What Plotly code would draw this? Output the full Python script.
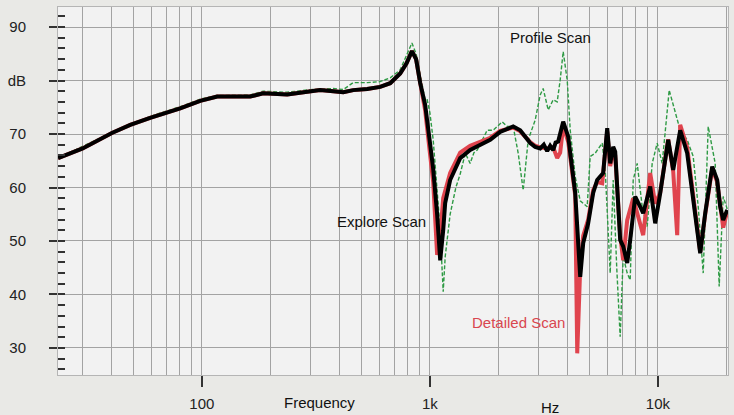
import plotly.graph_objects as go

# frequency response readings (Hz, dB)
explore_hz = [23.4, 30, 40.3, 48.5, 59.3, 80.3, 98.3, 116.7, 162.9, 185.7, 236.7,
              298.5, 330, 377, 417, 461, 531, 605, 670, 741, 790, 834, 870, 907,
              953, 1000, 1034, 1076, 1110, 1144, 1167, 1227, 1358, 1502, 1839, 2034,
              2320, 2490, 2754, 2896, 3047, 3160, 3269, 3370, 3474, 3560, 3653, 3843,
              4043, 4339, 4564, 4704, 4946, 5202, 5417, 5756, 5994, 6178, 6368, 6498,
              6833, 7044, 7335, 7560, 7952, 8365, 8621, 9252, 9731, 10233, 11098,
              11673, 12527, 13445, 14286, 14876, 15332, 16127, 17308, 18201, 18760,
              19337, 20133]
explore_db = [65.5, 67.3, 70.2, 71.7, 73.0, 74.8, 76.2, 77.0, 77.0, 77.6, 77.4,
              77.9, 78.2, 78.0, 77.8, 78.2, 78.4, 78.8, 79.5, 81.3, 83.2, 85.5, 84.0, 79.5,
              75.5, 68.5, 63.5, 55.0, 46.4, 52.0, 57.1, 61.4, 65.5, 67.0, 68.9, 70.4,
              71.4, 70.7, 68.3, 67.6, 67.3, 68.0, 66.8, 67.8, 67.0, 68.4, 68.6, 72.3,
              69.5, 59.0, 43.3, 49.6, 53.3, 59.0, 61.4, 62.7, 71.1, 64.5, 67.6, 66.7,
              50.2, 49.0, 45.9, 50.2, 58.3, 56.4, 55.2, 60.2, 53.3, 58.9, 68.9,
              63.3, 70.7, 66.4, 58.3, 52.7, 47.7, 55.2, 63.9, 61.4, 56.4,
              53.9, 55.8]

detailed_hz = [23.4, 30, 40.3, 48.5, 59.3, 80.3, 98.3, 116.7, 162.9, 185.7, 236.7,
               298.5, 330, 377, 417, 461, 531, 605, 670, 741, 790, 834, 870, 907,
               953, 1000, 1034, 1076, 1110, 1144, 1227, 1358, 1502, 1839, 2034,
               2320, 2490, 2754, 2896, 3047, 3269, 3474, 3617, 3728, 3843,
               4043, 4339, 4428, 4564, 4704, 4946, 5202, 5417, 5698, 5994, 6178, 6368,
               6498, 6833, 7044, 7335, 7793, 8365, 8621, 9252, 9731, 10233, 11098,
               11673, 12154, 12527, 13445, 14286, 14876, 15332, 16127, 17308, 18201,
               18760, 19337, 20133]
detailed_db = [65.5, 67.3, 70.2, 71.7, 73.0, 74.8, 76.2, 77.0, 77.0, 77.6, 77.4,
               77.9, 78.2, 78.0, 77.8, 78.2, 78.4, 78.8, 79.5, 81.3, 83.2, 85.5, 84.0, 79.5,
               74.5, 66.5, 61.0, 47.4, 51.0, 58.0, 62.7, 66.5, 67.8, 69.3, 70.6,
               71.2, 70.5, 68.5, 67.8, 67.5, 67.3, 67.5, 65.5, 66.5, 71.5,
               68.5, 58.5, 29.0, 45.0, 51.0, 54.0, 59.5, 61.0, 60.8, 70.5, 64.0, 67.0,
               66.0, 51.0, 46.4, 53.9, 58.0, 53.3, 51.1, 62.7, 57.0, 59.0, 69.0,
               63.0, 51.1, 71.7, 67.5, 58.5, 53.0, 48.0, 55.0, 63.5, 61.0,
               57.0, 52.5, 55.5]

profile_hz = [23.4, 40.3, 59.3, 80.3, 98.3, 116.7, 162.9, 185.7, 236.7, 298.5, 377,
              417, 461, 531, 605, 670, 741, 834, 870, 907, 953, 973, 1000, 1034, 1076,
              1110, 1144, 1167, 1227, 1300, 1358, 1430, 1502, 1560, 1613, 1700, 1784,
              1895, 2076, 2183, 2320, 2440, 2566, 2699, 2896, 3047, 3140, 3303, 3474,
              3617, 3728, 3843, 4002, 4126, 4339, 4564, 4897, 5047, 5309, 5698, 5874,
              6178, 6368, 6600, 6833, 7044, 7335, 7560, 7793, 8115, 8535, 8977, 9441,
              9929, 10445, 11210, 11912, 12527, 13445, 14286, 15027, 15803, 16622,
              17308, 17838, 18573, 19337, 20133]
profile_db = [65.5, 70.3, 73.3, 75.1, 76.5, 77.2, 77.3, 78.0, 77.8, 78.3, 78.5,
              78.3, 79.6, 79.6, 79.8, 80.5, 82.0, 87.0, 85.0, 81.0, 76.4, 76.4, 74.0, 68.9, 60.0,
              52.0, 40.5, 47.0, 55.0, 60.0, 62.5, 66.4, 64.5, 66.5, 67.0, 69.0, 70.7,
              70.7, 72.3, 71.4, 71.4, 66.4, 59.5, 68.9, 72.6, 77.3, 78.5, 74.5, 76.4,
              76.0, 80.1, 85.4, 80.1, 70.7, 62.0, 57.5, 56.4, 65.8, 66.4, 68.3, 63.3,
              44.0, 61.4, 45.0, 32.1, 47.1, 44.0, 42.7, 61.4, 64.5, 56.4, 52.7, 64.5,
              68.3, 64.5, 78.2, 73.9, 70.7, 68.9, 65.8, 56.4, 44.0, 71.4,
              67.6, 64.5, 41.5, 58.3, 56.0]

y_ticks = [30, 40, 50, 60, 70, 80, 90]
y_labels = ["30", "40", "50", "60", "70", "dB", "90"]
x_ticks = [100, 1000, 10000]
x_labels = ["100", "1k", "10k"]
x_grid = [30, 40, 50, 60, 70, 80, 90, 200, 300, 400, 500, 600, 700, 800, 900,
          2000, 3000, 4000, 5000, 6000, 7000, 8000, 9000, 20000]

FONT = "Liberation Sans, Arial, sans-serif"
GRID = "#a3a3a3"
# plot box in page pixels
L, R, T, B = 58, 728, 7, 375

fig = go.Figure()

fig.add_trace(go.Scatter(x=profile_hz, y=profile_db, mode="lines", name="Profile Scan",
                         line=dict(color="#2e9a44", width=1.4, dash="4px,2px")))
fig.add_trace(go.Scatter(x=detailed_hz, y=detailed_db, mode="lines", name="Detailed Scan",
                         line=dict(color="#e0444e", width=4)))
fig.add_trace(go.Scatter(x=explore_hz, y=explore_db, mode="lines", name="Explore Scan",
                         line=dict(color="#000000", width=4)))


def label(px, py, text, color="#111111"):
    # px, py are page pixels -> paper coords
    fig.add_annotation(x=(px - L) / (R - L), y=(B - py) / (B - T),
                       xref="paper", yref="paper", text=text, showarrow=False,
                       xanchor="center", yanchor="middle",
                       font=dict(family=FONT, size=15, color=color))


label(550, 38, "Profile Scan")
label(381, 221, "Explore Scan")
label(518, 322, "Detailed Scan", "#d9464f")
label(319, 402, "Frequency")
label(550, 407, "Hz")

fig.update_layout(
    width=734, height=415,
    margin=dict(l=L, r=734 - R, t=T, b=415 - B),
    paper_bgcolor="#e9e9e6",
    plot_bgcolor="#f2f2f2",
    showlegend=False,
    font=dict(family=FONT, size=15, color="#222222"),
)

fig.update_xaxes(
    type="log", range=[1.369, 4.3075], automargin=False,
    tickvals=x_ticks, ticktext=x_labels,
    ticks="outside", ticklen=11, tickwidth=1.5, tickcolor="#333333",
    ticklabelstandoff=4,
    showgrid=True, gridcolor=GRID, gridwidth=1,
    minor=dict(tickvals=x_grid, showgrid=True, gridcolor=GRID, gridwidth=1, ticks=""),
    showline=True, linecolor="#b5b5b5", linewidth=1, mirror=True,
    zeroline=False,
)
fig.update_yaxes(
    range=[24.95, 93.74], automargin=False,
    tickvals=y_ticks, ticktext=y_labels,
    ticks="outside", ticklen=8, tickwidth=1.5, tickcolor="#333333",
    ticklabelstandoff=20,
    showgrid=True, gridcolor=GRID, gridwidth=1,
    minor=dict(dtick=2, tick0=0, ticks="inside", ticklen=7, tickwidth=1.5,
               tickcolor="#333333", showgrid=False),
    showline=True, linecolor="#b5b5b5", linewidth=1, mirror=True,
    zeroline=False,
)

# drop the browser's default body margin so the figure sits at the page corner
fig.write_html("out.html", config={"displayModeBar": False},
               post_script="document.body.style.margin='0';")
